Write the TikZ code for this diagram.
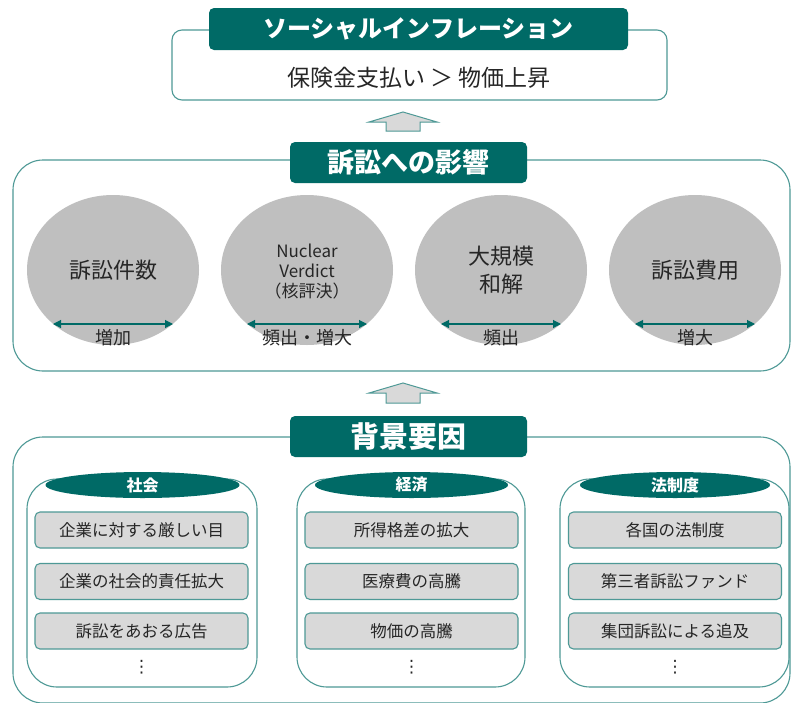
\documentclass[tikz,border=0pt]{standalone}
\usepackage{fontspec}
\setmainfont{Noto Sans CJK JP}
\newfontfamily\dvfont{DejaVu Sans}
\usetikzlibrary{arrows.meta,shapes.geometric}
\definecolor{tealdark}{HTML}{006A66}
\definecolor{tealline}{HTML}{4E9996}
\definecolor{gcirc}{HTML}{BFBFBF}
\definecolor{gitem}{HTML}{D9D9D9}
\definecolor{txt}{HTML}{262626}
\newcommand{\fs}[1]{\fontsize{#1}{#1}\selectfont}
\begin{document}
\begin{tikzpicture}[x=1pt,y=-1pt,
  framebox/.style={draw=tealline,line width=1.1pt,inner sep=0pt},
  banner/.style={fill=tealdark,rounded corners=5pt,text=white,inner sep=0pt,minimum width=237pt,minimum height=41pt},
  bubble/.style={ellipse,fill=gcirc,minimum width=172pt,minimum height=150pt,inner sep=0pt,text=txt,font=\fs{22},align=center},
  dbl/.style={draw=tealdark,line width=1.1pt,{Triangle[width=8pt,length=8pt]}-{Triangle[width=8pt,length=8pt]}},
  lbl/.style={text=txt,font=\fs{18},inner sep=0pt},
  group/.style={framebox,rounded corners=30pt,minimum height=208pt},
  ghead/.style={ellipse,fill=tealdark,text=white,font=\bfseries\fs{16},inner sep=0pt,minimum height=26pt},
  item/.style={draw=tealline,line width=1.1pt,fill=gitem,rounded corners=5pt,minimum width=213pt,minimum height=36pt,inner sep=0pt,text=txt,font=\fs{16.5}},
  dots/.style={text=txt,font=\dvfont\fs{17},inner sep=0pt},
  blockarrow/.style={draw=tealline,fill=gitem,line width=1pt,line join=miter}
]
\useasboundingbox[fill=white] (0,0) rectangle (793,702);

% top
\node[framebox,rounded corners=10pt,minimum width=495pt,minimum height=70pt] (top) at (419.5,65) {};
\node[fill=tealdark,rounded corners=5pt,text=white,inner sep=0pt,minimum width=419pt,minimum height=42pt,font=\bfseries\fs{24}] (topt) at (418.5,29) {ソーシャルインフレーション};
\node[text=txt,font=\fs{23},inner sep=0pt] (topsub) at (419,78) {保険金支払い ＞ 物価上昇};

% arrow 1
\draw[blockarrow] (403,112) -- (437,122) -- (420,122) -- (420,131) -- (386,131) -- (386,122) -- (369,122) -- cycle;

% middle
\node[framebox,rounded corners=30pt,minimum width=777pt,minimum height=211pt] (mid) at (401.5,265.5) {};
\node[banner,font=\bfseries\fs{27}] (midt) at (408.5,162.5) {訴訟への影響};

\node[bubble] (c1) at (113,270) {訴訟件数};
\node[bubble] (c2) at (307,270) {};
\node[text=txt,font=\fs{17},inner sep=0pt,align=center] (c2t) at (307,272) {Nuclear\\[3pt]Verdict\\[3pt]（核評決）};
\node[bubble] (c3) at (501,270) {大規模\\[6pt]和解};
\node[bubble] (c4) at (695,270) {訴訟費用};

\foreach \c/\t in {c1/増加,c2/頻出・増大,c3/頻出,c4/増大}{
  \coordinate (\c l) at ([xshift=-60pt,yshift=-54pt]\c.center);
  \coordinate (\c r) at ([xshift=60pt,yshift=-54pt]\c.center);
  \draw[dbl] (\c l) -- (\c r);
  \node[lbl] (\c lab) at ([yshift=-68pt]\c.center) {\t};
}

% arrow 2
\draw[blockarrow] (403,383) -- (437,393) -- (420,393) -- (420,403) -- (386,403) -- (386,393) -- (369,393) -- cycle;

% bottom
\node[framebox,rounded corners=30pt,minimum width=777pt,minimum height=266pt] (bot) at (401.5,570) {};
\node[banner,font=\bfseries\fs{29}] (bott) at (408.5,436.5) {背景要因};

% groups
\node[group,minimum width=230pt] (g1) at (142,583) {};
\node[group,minimum width=228pt] (g2) at (411,583) {};
\node[group,minimum width=229pt] (g3) at (674.5,583) {};
\node[ghead,minimum width=194pt] (h1) at (142.5,485) {社会};
\node[ghead,minimum width=193pt] (h2) at (411.5,485) {経済};
\node[ghead,minimum width=190pt] (h3) at (675,485) {法制度};

\node[item] (a1) at (141.5,530) {企業に対する厳しい目};
\node[item] (a2) at (141.5,581.5) {企業の社会的責任拡大};
\node[item] (a3) at (141.5,631) {訴訟をあおる広告};
\node[dots] (a4) at (141.5,667) {⋮};

\node[item] (b1) at (411.5,530) {所得格差の拡大};
\node[item] (b2) at (411.5,581.5) {医療費の高騰};
\node[item] (b3) at (411.5,631) {物価の高騰};
\node[dots] (b4) at (411.5,667) {⋮};

\node[item] (d1) at (675,530) {各国の法制度};
\node[item] (d2) at (675,581.5) {第三者訴訟ファンド};
\node[item] (d3) at (675,631) {集団訴訟による追及};
\node[dots] (d4) at (675,667) {⋮};
\end{tikzpicture}
\end{document}
